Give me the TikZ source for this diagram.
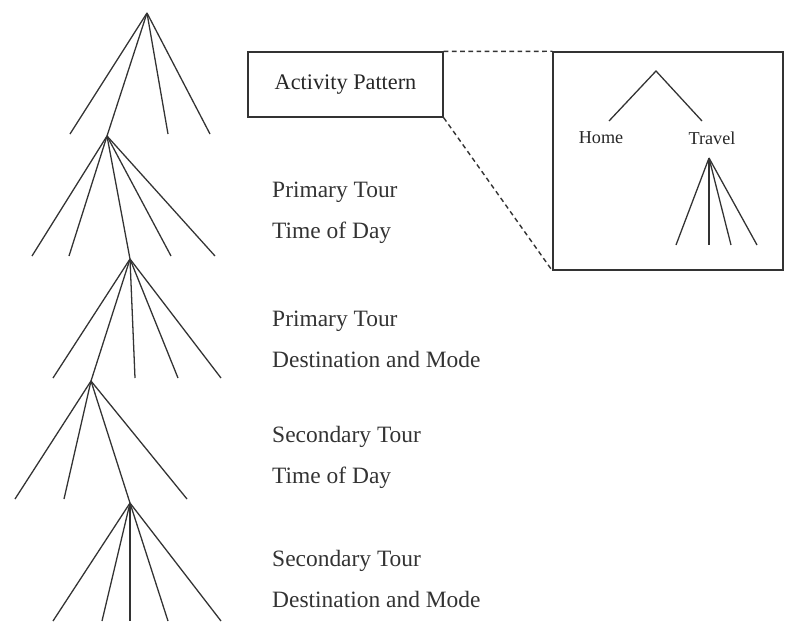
\documentclass[tikz,border=0pt]{standalone}
\usepackage{fontspec}
\setmainfont{Liberation Serif}
\usetikzlibrary{positioning}

\begin{document}
\begin{tikzpicture}[x=0.03cm, y=-0.03cm,
  branch/.style={draw=black!80, line width=1.1pt},
  lbl/.style={anchor=west, inner sep=0, align=left, text=black!80, font=\fontsize{20}{35}\selectfont},
  box/.style={draw=black!80, line width=1.2pt, inner sep=0}]
\useasboundingbox (0,0) rectangle (788,635);
% main choice tree
\coordinate (r1) at (147,13);
\coordinate (r2) at (107,136);
\coordinate (r3) at (130,259);
\coordinate (r4) at (91,381);
\coordinate (r5) at (130,503);
\draw[branch] (r1) -- (r2) -- (r3) -- (r4) -- (r5);
\foreach \x in {70,168,210} {\coordinate (e) at (\x,134); \draw[branch] (r1) -- (e);}
\foreach \x in {32,69,171,215} {\coordinate (e) at (\x,256); \draw[branch] (r2) -- (e);}
\foreach \x in {53,135,178,221} {\coordinate (e) at (\x,378); \draw[branch] (r3) -- (e);}
\foreach \x in {15,64,187} {\coordinate (e) at (\x,499); \draw[branch] (r4) -- (e);}
\foreach \x in {53,102,130,168,221} {\coordinate (e) at (\x,621); \draw[branch] (r5) -- (e);}
% level labels
\node[box, minimum width=5.85cm, minimum height=1.95cm, font=\fontsize{19}{23}\selectfont, text=black!85] (act) at (345.5,84.5) {Activity Pattern};
\node[lbl] (ptod) at (272,213) {Primary Tour\\Time of Day};
\node[lbl] (pdm) at (272,339) {Primary Tour\\Destination and Mode};
\node[lbl] (stod) at (272,457) {Secondary Tour\\Time of Day};
\node[lbl] (sdm) at (272,579) {Secondary Tour\\Destination and Mode};
% detail of the activity pattern
\node[box, minimum width=6.9cm, minimum height=6.54cm] (detail) at (668,161) {};
\draw[box, dash pattern=on 4pt off 3pt] (act.north east) -- (detail.north west);
\draw[box, dash pattern=on 4pt off 3pt] (act.south east) -- (detail.south west);
\coordinate (apex) at (656,71);
\node[font=\fontsize{15.5}{18}\selectfont, text=black!85, inner sep=0] (home) at (601,138) {Home};
\node[font=\fontsize{15.5}{18}\selectfont, text=black!85, inner sep=0] (travel) at (712,138) {Travel};
\coordinate (hl) at (609,121);
\coordinate (tl) at (702,121);
\draw[branch] (hl) -- (apex) -- (tl);
\coordinate (tr) at (709,158);
\foreach \x in {676,709,731,757} {\coordinate (e) at (\x,245); \draw[branch] (tr) -- (e);}
\end{tikzpicture}
\end{document}
